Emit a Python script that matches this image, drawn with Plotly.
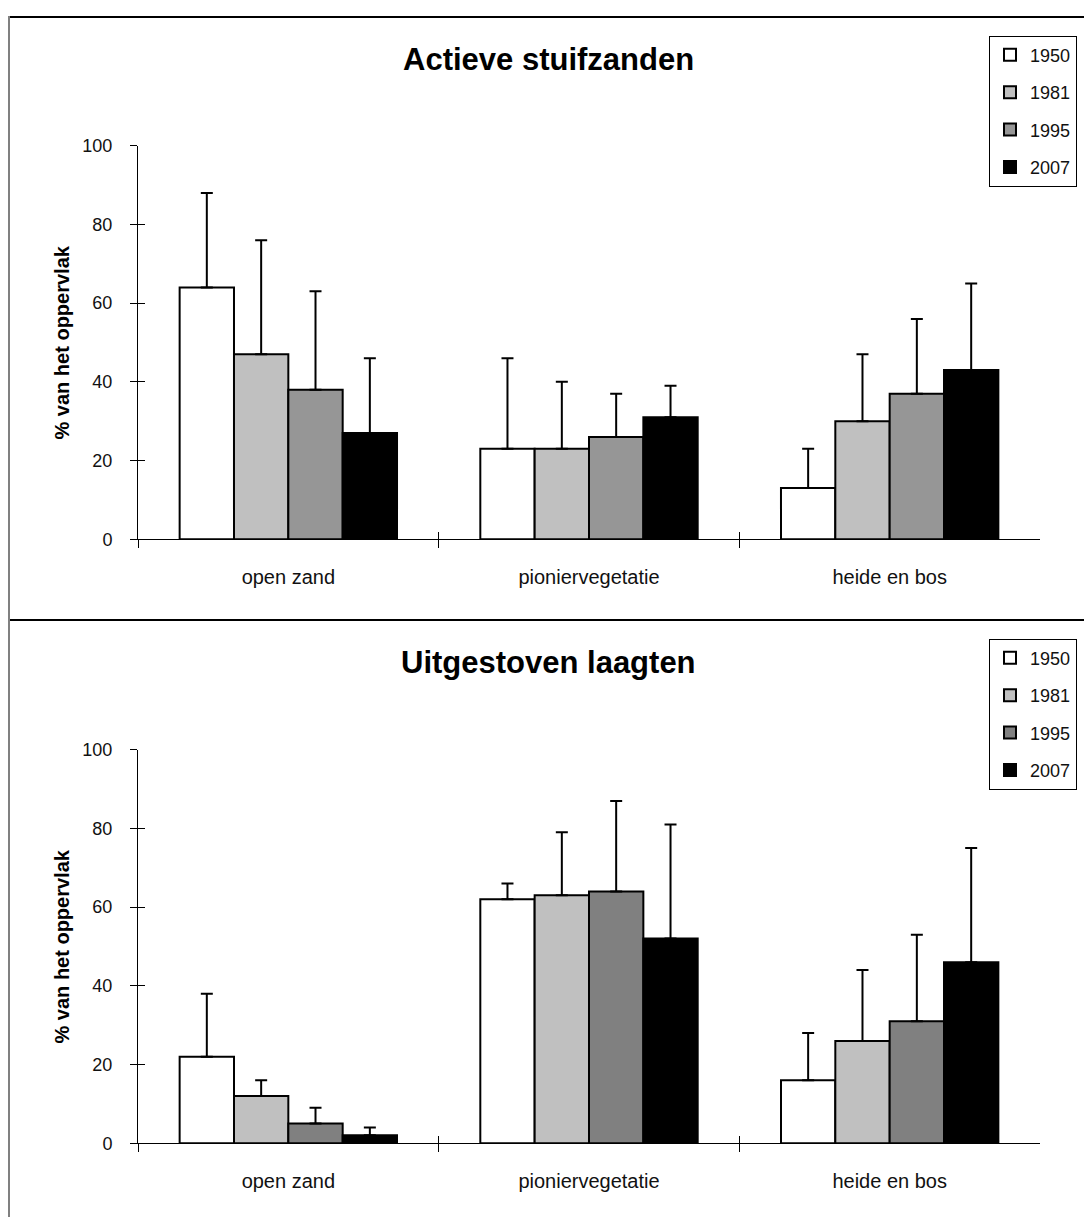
import plotly.graph_objects as go

W, H = 1084, 1227
FONT = "Liberation Sans, Arial, sans-serif"

categories = ["open zand", "pioniervegetatie", "heide en bos"]
years = ["1950", "1981", "1995", "2007"]
y_ticks = [0, 20, 40, 60, 80, 100]
y_title = "% van het oppervlak"

# Panel 1: Actieve stuifzanden (mean, upper error)
title_top = "Actieve stuifzanden"
top_1950 = [64, 23, 13]
top_1950_err = [24, 23, 10]
top_1981 = [47, 23, 30]
top_1981_err = [29, 17, 17]
top_1995 = [38, 26, 37]
top_1995_err = [25, 11, 19]
top_2007 = [27, 31, 43]
top_2007_err = [19, 8, 22]

# Panel 2: Uitgestoven laagten
title_bot = "Uitgestoven laagten"
bot_1950 = [22, 62, 16]
bot_1950_err = [16, 4, 12]
bot_1981 = [12, 63, 26]
bot_1981_err = [4, 16, 18]
bot_1995 = [5, 64, 31]
bot_1995_err = [4, 23, 22]
bot_2007 = [2, 52, 46]
bot_2007_err = [2, 29, 29]

colors_top = ["#ffffff", "#c0c0c0", "#969696", "#000000"]
colors_bot = ["#ffffff", "#c0c0c0", "#808080", "#000000"]

top_vals = [top_1950, top_1981, top_1995, top_2007]
top_errs = [top_1950_err, top_1981_err, top_1995_err, top_2007_err]
bot_vals = [bot_1950, bot_1981, bot_1995, bot_2007]
bot_errs = [bot_1950_err, bot_1981_err, bot_1995_err, bot_2007_err]

fig = go.Figure()


def add_panel(vals, errs, colors, xa, ya, legend, grp):
    for yr, v, e, c in zip(years, vals, errs, colors):
        fig.add_trace(go.Bar(
            x=categories, y=v, name=yr,
            xaxis=xa, yaxis=ya, legend=legend, legendgroup=grp + yr,
            marker=dict(color=c, line=dict(color="#000000", width=2)),
            error_y=dict(type="data", array=e, arrayminus=[0] * len(e),
                         symmetric=False, color="#000000", thickness=2, width=6),
        ))


add_panel(top_vals, top_errs, colors_top, "x", "y", "legend", "t")
add_panel(bot_vals, bot_errs, colors_bot, "x2", "y2", "legend2", "b")

# empty traces to activate overlay axes (crossing ticks)
fig.add_trace(go.Scatter(x=[], y=[], xaxis="x3", yaxis="y3", showlegend=False, hoverinfo="skip"))
fig.add_trace(go.Scatter(x=[], y=[], xaxis="x4", yaxis="y4", showlegend=False, hoverinfo="skip"))


def py(p):
    return 1 - p / H


def px(p):
    return p / W


xdom = [px(138), px(1040)]
top_ydom = [py(538), py(138)]
bot_ydom = [py(1152), py(752)]

xbase = dict(domain=xdom, type="category", categoryorder="array", categoryarray=categories,
             tickson="boundaries", ticks="outside", ticklen=8, tickcolor="#000000",
             showline=True, linecolor="#000000", linewidth=1, showgrid=False, zeroline=False,
             tickfont=dict(family=FONT, size=20, color="#111111"), ticklabelstandoff=20,
             fixedrange=True)
ybase = dict(range=[0, 100], tickvals=y_ticks, ticks="outside", ticklen=7, tickcolor="#000000",
             showline=True, linecolor="#000000", linewidth=1, showgrid=False, zeroline=False,
             tickfont=dict(family=FONT, size=18, color="#111111"), ticklabelstandoff=14,
             fixedrange=True)
xover = dict(domain=xdom, range=[-0.5, 2.5], tickvals=[-0.5, 0.5, 1.5, 2.5], ticks="inside",
             ticklen=7, tickcolor="#000000", showticklabels=False, showline=False,
             showgrid=False, zeroline=False, fixedrange=True)
yover = dict(range=[0, 100], tickvals=y_ticks, ticks="inside", ticklen=7, tickcolor="#000000",
             showticklabels=False, showline=False, showgrid=False, zeroline=False, fixedrange=True)

legbase = dict(xanchor="right", x=px(1077), yanchor="top", bordercolor="#000000", borderwidth=1,
               bgcolor="#ffffff", font=dict(family=FONT, size=18, color="#111111"),
               traceorder="grouped", tracegroupgap=11, itemclick=False, itemdoubleclick=False)

fig.update_layout(
    width=W, height=H, autosize=False,
    margin=dict(l=0, r=0, t=0, b=0),
    paper_bgcolor="#ffffff", plot_bgcolor="rgba(0,0,0,0)",
    font=dict(family=FONT, color="#111111"),
    barmode="group", bargap=0.277, bargroupgap=0,
    xaxis=dict(xbase, anchor="y"),
    yaxis=dict(ybase, domain=top_ydom, anchor="x"),
    xaxis2=dict(xbase, anchor="y2"),
    yaxis2=dict(ybase, domain=bot_ydom, anchor="x2"),
    xaxis3=dict(xover, anchor="y", overlaying="x"),
    yaxis3=dict(yover, domain=top_ydom, anchor="x", overlaying="y"),
    xaxis4=dict(xover, anchor="y2", overlaying="x2"),
    yaxis4=dict(yover, domain=bot_ydom, anchor="x2", overlaying="y2"),
    legend=dict(legbase, y=py(26)),
    legend2=dict(legbase, y=py(639)),
    showlegend=True,
)

for txt, yy in [(title_top, 50), (title_bot, 663)]:
    fig.add_annotation(text="<b>%s</b>" % txt, xref="paper", yref="paper", x=px(548), y=py(yy),
                       showarrow=False, xanchor="center", yanchor="middle",
                       font=dict(family=FONT, size=31, color="#000000"))
for yy in [338, 952]:
    fig.add_annotation(text="<b>%s</b>" % y_title, xref="paper", yref="paper", x=px(62), y=py(yy),
                       showarrow=False, xanchor="center", yanchor="middle", textangle=-90,
                       font=dict(family=FONT, size=20, color="#000000"))

# frame lines
fig.add_shape(type="line", xref="paper", yref="paper", x0=px(8), x1=1, y0=py(7), y1=py(7),
              line=dict(color="#000000", width=2))
fig.add_shape(type="line", xref="paper", yref="paper", x0=px(8), x1=1, y0=py(620), y1=py(620),
              line=dict(color="#000000", width=2))
fig.add_shape(type="line", xref="paper", yref="paper", x0=px(9), x1=px(9), y0=0, y1=py(6),
              line=dict(color="#808080", width=2))

fig.write_html("out.html", config={"displayModeBar": False, "staticPlot": False})

# remove default page margins so the figure fills the window exactly
with open("out.html", "r", encoding="utf-8") as f:
    html = f.read()
html = html.replace("<head>", "<head><style>html,body{margin:0;padding:0;overflow:hidden;}</style>", 1)
with open("out.html", "w", encoding="utf-8") as f:
    f.write(html)
